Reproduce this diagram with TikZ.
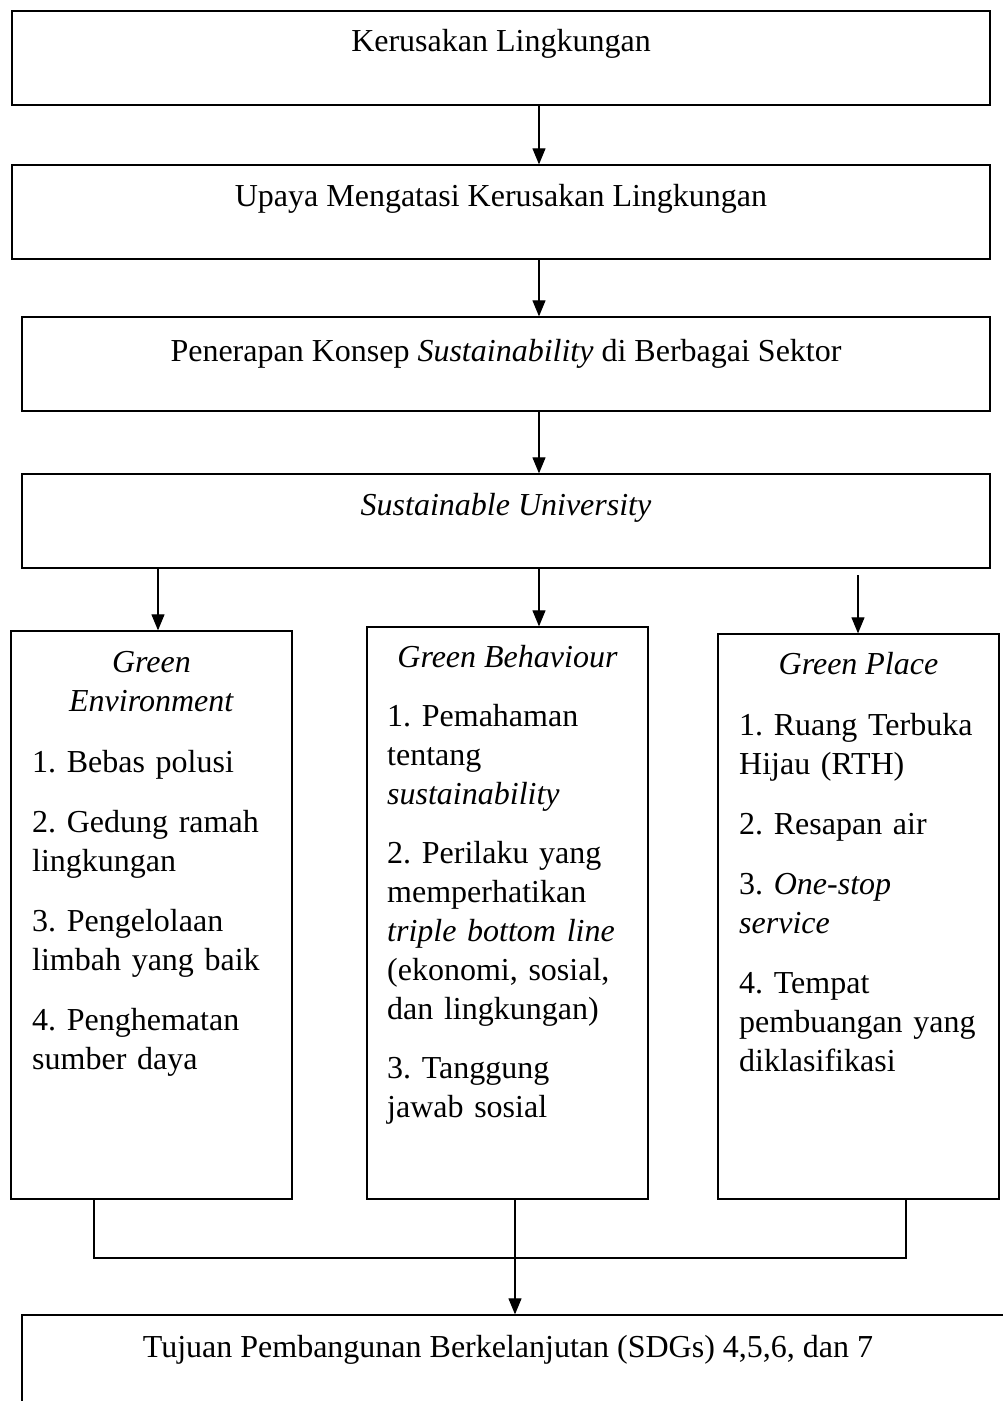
\documentclass[tikz,border=0pt]{standalone}
\usepackage{fontspec}
\setmainfont{Liberation Serif}
\usetikzlibrary{arrows.meta}
\frenchspacing
\begin{document}
\begin{tikzpicture}[x=1pt,y=-1pt,
  box/.style={draw, line width=1.3pt, inner sep=0pt, minimum width=#1},
  txt/.style={inner sep=0pt, font=\fontsize{32pt}{39pt}\selectfont\frenchspacing},
  body/.style={txt, anchor=base west, align=left, text width=250pt},
  conn/.style={line width=1.1pt},
  arr/.style={conn, -{Triangle[length=16pt,width=13pt]}}]
\useasboundingbox (0,0) rectangle (1003,1401);
\clip (0,0) rectangle (1003,1401);
% top boxes
\node[box=978pt, minimum height=94pt] (b1) at (501,58) {};
\node[box=978pt, minimum height=94pt] (b2) at (501,212) {};
\node[box=968pt, minimum height=94pt] (b3) at (506,364) {};
\node[box=968pt, minimum height=94pt] (b4) at (506,521) {};
\node[txt, anchor=base] (t1) at (501,51) {Kerusakan Lingkungan};
\node[txt, anchor=base] (t2) at (501,206) {Upaya Mengatasi Kerusakan Lingkungan};
\node[txt, anchor=base] (t3) at (506,361) {Penerapan Konsep \textit{Sustainability} di Berbagai Sektor};
\node[txt, anchor=base] (t4) at (506,515) {\textit{Sustainable University}};
% column boxes
\node[box=281pt, minimum height=568pt] (b5) at (151.5,915) {};
\node[box=281pt, minimum height=572pt] (b6) at (507.5,913) {};
\node[box=281pt, minimum height=565pt] (b7) at (858.5,916.5) {};
% bottom box (runs past the page edge)
\node[box=990pt, minimum height=110pt] (b8) at (517,1370) {};
\node[txt, anchor=base] (t8) at (508,1357) {Tujuan Pembangunan Berkelanjutan (SDGs) 4,5,6, dan 7};
% column texts
\node[txt, anchor=base] (h5a) at (151.5,672) {\textit{Green}};
\node[txt, anchor=base] (h5b) at (151.5,711) {\textit{Environment}};
\node[body] (l5) at (32,772) {1. Bebas polusi\\[21pt]
2. Gedung ramah\\lingkungan\\[21pt]
3. Pengelolaan\\limbah yang baik\\[21pt]
4. Penghematan\\sumber daya};
\node[txt, anchor=base] (h6) at (507.5,667) {\textit{Green Behaviour}};
\node[body] (l6) at (387,726) {1. Pemahaman\\tentang\\\textit{sustainability}\\[20pt]
2. Perilaku yang\\memperhatikan\\\textit{triple bottom line}\\(ekonomi, sosial,\\dan lingkungan)\\[20pt]
3. Tanggung\\jawab sosial};
\node[txt, anchor=base] (h7) at (858.5,674) {\textit{Green Place}};
\node[body] (l7) at (739,735) {1. Ruang Terbuka\\Hijau (RTH)\\[21pt]
2. Resapan air\\[21pt]
3. \textit{One-stop}\\\textit{service}\\[21pt]
4. Tempat\\pembuangan yang\\diklasifikasi};
% connector coordinates
\coordinate (cx) at (539,0);
\coordinate (ca) at (158,0);
\coordinate (r0) at (858,575);
\coordinate (cl) at (94,1258);
\coordinate (cr) at (906,1258);
\coordinate (cm) at (515,0);
% connectors
\draw[arr] (b1.south -| cx) -- (b2.north -| cx);
\draw[arr] (b2.south -| cx) -- (b3.north -| cx);
\draw[arr] (b3.south -| cx) -- (b4.north -| cx);
\draw[arr] (b4.south -| ca) -- (b5.north -| ca);
\draw[arr] (b4.south -| cx) -- (b6.north -| cx);
\draw[arr] (r0) -- (b7.north -| r0);
\draw[conn] (b5.south -| cl) -- (cl) -- (cr) -- (b7.south -| cr);
\draw[arr] (b6.south -| cm) -- (b8.north -| cm);
\end{tikzpicture}
\end{document}
